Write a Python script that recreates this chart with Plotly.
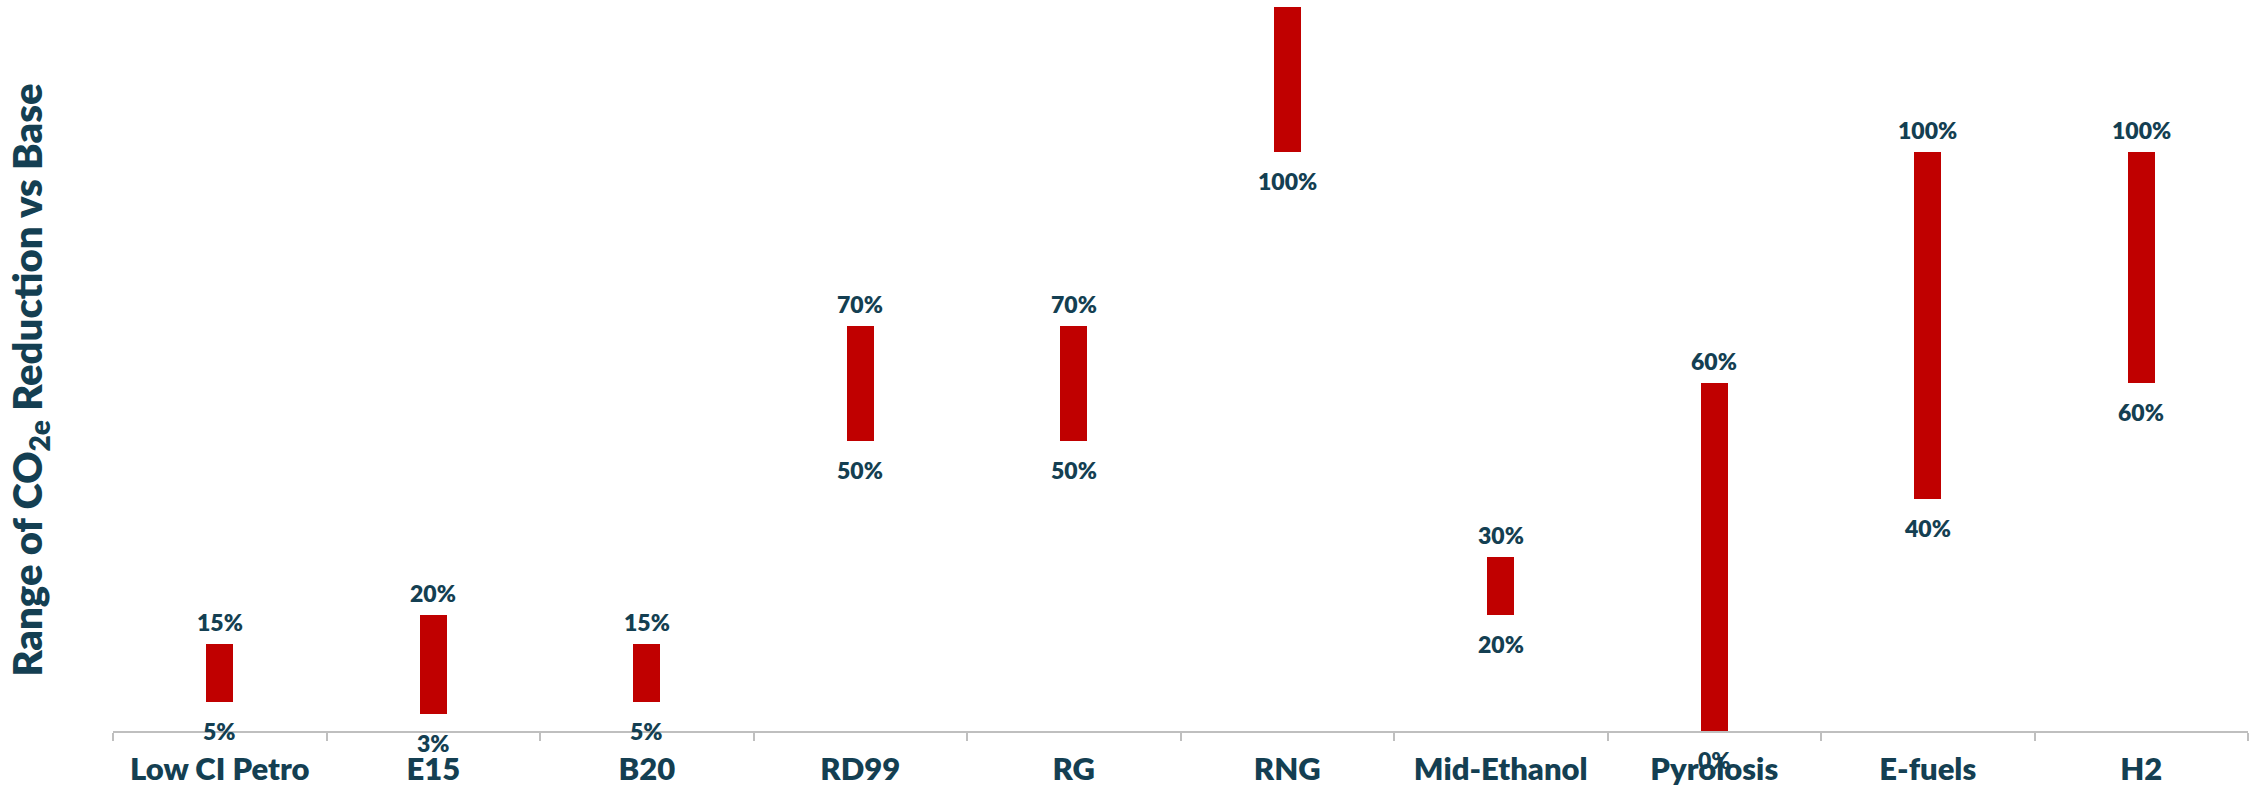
import plotly.graph_objects as go

categories = ["Low CI Petro", "E15", "B20", "RD99", "RG", "RNG", "Mid-Ethanol", "Pyrolosis", "E-fuels", "H2"]
low_vals = [5, 3, 5, 50, 50, 100, 20, 0, 40, 60]
high_vals = [15, 20, 15, 70, 70, 130, 30, 60, 100, 100]
low_labels = ["5%", "3%", "5%", "50%", "50%", "100%", "20%", "0%", "40%", "60%"]
high_labels = ["15%", "20%", "15%", "70%", "70%", "", "30%", "60%", "100%", "100%"]

TEXT = "#143F52"
RED = "#C00000"
FONT = "Lato"

fig = go.Figure()
fig.add_trace(go.Bar(
    x=categories,
    y=[h - l for h, l in zip(high_vals, low_vals)],
    base=low_vals,
    width=0.126,
    marker=dict(color=RED, line=dict(width=0)),
    hoverinfo="skip",
    showlegend=False,
))

annotations = []
for c, lo, hi, lt, ht in zip(categories, low_vals, high_vals, low_labels, high_labels):
    annotations.append(dict(x=c, y=lo, xref="x", yref="y", text=lt, showarrow=False,
                            yanchor="middle", yshift=-29,
                            font=dict(family=FONT, size=23, color=TEXT, weight=800)))
    if ht:
        annotations.append(dict(x=c, y=hi, xref="x", yref="y", text=ht, showarrow=False,
                                yanchor="middle", yshift=22,
                                font=dict(family=FONT, size=23, color=TEXT, weight=800)))

annotations.append(dict(
    text="Range of CO<sub>2e</sub> Reduction vs Base",
    xref="paper", yref="paper", x=-0.039, y=0.485,
    xanchor="center", yanchor="middle", textangle=-90, showarrow=False,
    font=dict(family=FONT, size=40, color=TEXT, weight=800),
))

fig.update_layout(
    width=2256, height=786,
    margin=dict(l=113, r=8, t=7, b=55, autoexpand=False),
    plot_bgcolor="white", paper_bgcolor="white",
    annotations=annotations,
    bargap=0,
    xaxis=dict(
        type="category", automargin=False,
        showline=True, linecolor="#BFBFBF", linewidth=2,
        ticks="outside", tickson="boundaries", ticklen=8, tickcolor="#BFBFBF", tickwidth=2,
        tickfont=dict(family=FONT, size=31, color=TEXT, weight=800),
        ticklabelstandoff=10,
        showgrid=False, zeroline=False,
        range=[-0.5, 9.5],
    ),
    yaxis=dict(
        range=[0, 125], visible=False, showgrid=False, zeroline=False, automargin=False,
    ),
)

fig.write_html("out.html")
